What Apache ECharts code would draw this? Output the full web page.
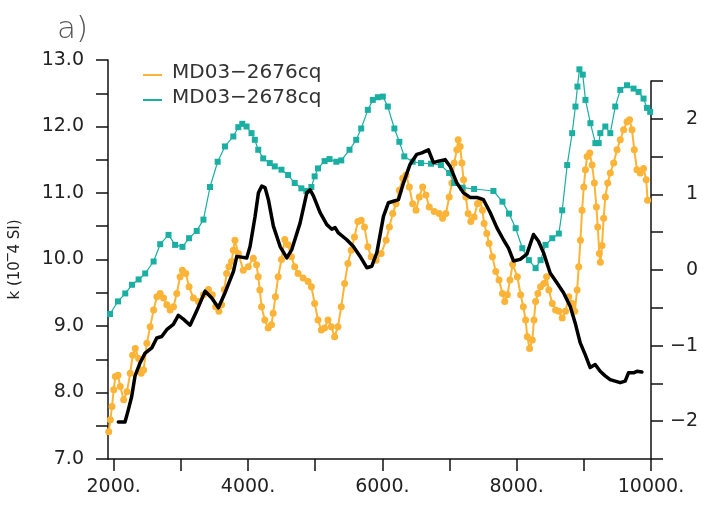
<!DOCTYPE html>
<html>
<head>
<meta charset="utf-8">
<script src="https://cdn.jsdelivr.net/npm/echarts@6/dist/echarts.min.js"></script>
<style>
  html, body { margin: 0; padding: 0; background: #fff; }
  #main { width: 703px; height: 506px; }
</style>
</head>
<body>
<div id="main"></div>
<script>
// MD03-2676cq (orange, left axis)
const orangeYear = [1926,1950,1975,2000,2024,2064,2098,2148,2197,2246,2282,2321,2371,2410,2445,2494,2543,2594,2643,2692,
  2742,2791,2840,2890,2939,2988,3024,3073,3122,3187,3261,3336,3410,3469,3518,3567,3607,3647,3681,3715,
  3755,3781,3805,3855,3929,4003,4078,4127,4152,4176,4201,4250,4300,4349,4374,4408,4449,4498,4547,4597,
  4646,4695,4745,4820,4894,4943,4992,5042,5091,5140,5191,5240,5289,5339,5388,5438,5487,5536,5585,5636,
  5685,5734,5784,5833,5907,5982,6056,6105,6155,6204,6253,6304,6353,6402,6452,6501,6550,6600,6649,6698,
  6773,6847,6897,6946,6995,7035,7069,7109,7129,7159,7184,7209,7243,7277,7317,7366,7417,7455,7491,7515,
  7555,7589,7639,7688,7737,7788,7822,7862,7900,7940,8010,8059,8099,8133,8158,8192,8233,8257,8282,8316,
  8356,8405,8445,8479,8530,8579,8628,8678,8727,8776,8826,8865,8900,8924,8949,8974,8999,9024,9049,9088,
  9123,9157,9187,9207,9231,9246,9271,9295,9320,9355,9394,9444,9494,9543,9592,9643,9681,9717,9751,9791,
  9840,9889,9929,9949];
const orangeK = [7.41,7.59,7.79,8.04,8.24,8.26,8.09,7.89,8.01,8.29,8.56,8.66,8.51,8.29,8.34,8.74,8.99,9.24,9.44,9.49,
  9.42,9.32,9.24,9.29,9.49,9.74,9.84,9.79,9.59,9.42,9.37,9.47,9.55,9.47,9.29,9.22,9.32,9.55,9.79,9.89,
  9.97,10.14,10.29,10.09,9.84,9.89,10.02,9.92,9.74,9.54,9.29,9.09,8.97,9.02,9.19,9.44,9.74,10.00,10.30,10.22,
  10.04,9.89,9.79,9.72,9.67,9.59,9.34,9.09,8.94,8.97,9.09,8.99,8.84,8.99,9.29,9.64,9.94,10.14,10.34,10.57,
  10.59,10.49,10.19,10.04,9.99,10.09,10.29,10.49,10.69,10.84,11.04,11.22,11.27,11.09,10.84,10.74,10.94,11.09,10.97,10.79,
  10.72,10.69,10.62,10.69,10.94,11.15,11.45,11.65,11.80,11.70,11.45,11.20,10.94,10.69,10.57,10.64,10.84,10.89,10.74,10.54,
  10.39,10.24,10.04,9.82,9.69,9.49,9.37,9.47,9.69,9.93,9.74,9.47,9.29,9.09,8.84,8.66,8.79,9.09,9.37,9.49,
  9.59,9.64,9.74,9.54,9.34,9.24,9.22,9.12,9.22,9.44,9.34,9.22,9.54,9.89,10.29,10.74,11.09,11.35,11.55,11.60,
  11.42,11.15,10.79,10.49,10.09,9.96,10.21,10.62,10.94,11.15,11.30,11.45,11.65,11.80,11.95,12.07,12.10,11.95,11.65,11.35,
  11.30,11.37,11.20,10.89];

// MD03-2678cq (teal, left axis)
const tealYear = [1945,2064,2172,2272,2371,2469,2594,2692,2816,2914,3024,3122,3236,3336,3434,3548,3656,3781,3855,3914,
  3978,4052,4101,4152,4226,4324,4398,4498,4597,4695,4794,4869,4943,4992,5042,5140,5214,5314,5388,5511,
  5611,5685,5784,5858,5933,6007,6081,6179,6253,6327,6452,6575,6724,6872,6995,7069,7194,7366,7654,7788,
  7886,7985,8084,8182,8282,8356,8430,8530,8628,8678,8752,8826,8875,8905,8934,8984,9024,9098,9172,9221,
  9246,9320,9394,9468,9543,9643,9740,9815,9889,9939,9988];
const tealK = [9.18,9.37,9.49,9.62,9.70,9.79,9.97,10.23,10.37,10.22,10.19,10.32,10.43,10.60,11.09,11.47,11.70,11.85,11.99,12.04,
  12.00,11.90,11.80,11.65,11.52,11.45,11.40,11.35,11.27,11.15,11.07,11.03,11.09,11.25,11.37,11.48,11.51,11.47,11.49,11.65,
  11.80,11.97,12.25,12.40,12.44,12.45,12.30,11.97,11.77,11.55,11.47,11.45,11.44,11.42,11.30,11.15,11.08,11.06,11.03,10.87,
  10.69,10.47,10.17,9.99,9.87,9.99,10.22,10.32,10.39,10.74,11.42,11.90,12.30,12.60,12.86,12.78,12.40,12.05,11.75,11.75,
  11.90,12.00,11.90,12.30,12.55,12.62,12.57,12.52,12.42,12.28,12.22];

// black curve (right axis)
const blackYear = [2098,2197,2246,2297,2346,2420,2495,2594,2668,2742,2816,2914,2988,3063,3162,3261,3385,3484,3582,3681,
  3805,3855,4003,4052,4127,4176,4226,4275,4324,4398,4498,4597,4671,4794,4894,4943,4992,5091,5191,5265,
  5314,5363,5487,5585,5685,5784,5858,5933,6031,6105,6179,6253,6327,6427,6526,6600,6698,6773,6847,6946,
  7020,7120,7218,7317,7417,7515,7614,7713,7811,7886,7960,8059,8158,8257,8331,8405,8504,8604,8702,8801,
  8875,8949,9024,9098,9172,9246,9320,9394,9468,9543,9617,9666,9740,9791,9865];
const blackVal = [-2.01,-2.01,-1.85,-1.67,-1.40,-1.23,-1.10,-1.03,-0.90,-0.88,-0.79,-0.72,-0.60,-0.65,-0.73,-0.54,-0.28,-0.37,-0.50,-0.30,
  -0.02,0.18,0.16,0.31,0.71,1.02,1.11,1.09,0.93,0.58,0.31,0.16,0.27,0.62,1.02,1.06,0.98,0.76,0.60,0.54,
  0.56,0.49,0.40,0.31,0.18,0.03,0.05,0.23,0.71,0.89,0.91,0.93,1.15,1.40,1.53,1.55,1.59,1.42,1.44,1.46,
  1.37,1.15,1.02,0.96,0.96,0.93,0.76,0.56,0.40,0.29,0.12,0.14,0.21,0.47,0.38,0.23,-0.04,-0.17,-0.30,-0.48,
  -0.70,-0.96,-1.12,-1.29,-1.25,-1.34,-1.40,-1.45,-1.47,-1.49,-1.47,-1.36,-1.36,-1.34,-1.35];

const xTickValues = [2000, 3000, 4000, 5000, 6000, 7000, 8000, 9000, 10000];
const xLabelValues = [2000, 4000, 6000, 8000, 10000];

const pairs = (xs, ys) => xs.map((x, i) => [x, ys[i]]);

const FONT = 'DejaVu Sans';
const ORANGE = '#FBB437';
const TEAL = '#1AAFA2';

const chart = echarts.init(document.getElementById('main'));

const axisLineStyle = { lineStyle: { color: '#111', width: 1.5 } };

const option = {
  animation: false,
  title: {
    text: 'a)',
    left: 52,
    top: 9,
    textStyle: { fontFamily: FONT, fontSize: 31, fontWeight: 200, color: '#555' }
  },
  legend: {
    data: ['MD03\u22122676cq', 'MD03\u22122678cq'],
    orient: 'vertical',
    left: 138,
    top: 58,
    itemGap: 5,
    itemWidth: 24,
    itemHeight: 10,
    icon: 'path://M0,6h19v2h-19z M24,0h0.01v10h-0.01z',
    textStyle: { fontFamily: FONT, fontSize: 20, color: '#333' }
  },
  grid: [
    { left: 106, right: 52, top: 60, bottom: 47 },
    { left: 106, right: 52, top: 81, bottom: 47 }
  ],
  xAxis: [
    {
      type: 'value',
      gridIndex: 0,
      min: 1915,
      max: 10000,
      axisLine: axisLineStyle,
      axisTick: { customValues: xTickValues, length: 12, lineStyle: { color: '#111', width: 1.5 } },
      axisLabel: {
        customValues: xLabelValues,
        formatter: v => v + '.',
        fontFamily: FONT,
        fontSize: 19,
        color: '#222',
        margin: 19
      },
      splitLine: { show: false }
    },
    {
      type: 'value',
      gridIndex: 1,
      min: 1915,
      max: 10000,
      show: false
    }
  ],
  yAxis: [
    {
      type: 'value',
      gridIndex: 0,
      min: 7,
      max: 13,
      interval: 0.5,
      name: 'k (10\u203E4 SI)',
      nameLocation: 'middle',
      nameGap: 85,
      nameTextStyle: { fontFamily: FONT, fontSize: 15, color: '#222' },
      axisLine: { show: true, ...axisLineStyle },
      axisTick: { length: 12, lineStyle: { color: '#111', width: 1.5 } },
      axisLabel: {
        formatter: v => (Number.isInteger(v) ? v.toFixed(1) : ''),
        fontFamily: FONT,
        fontSize: 19,
        color: '#222',
        margin: 24
      },
      splitLine: { show: false }
    },
    {
      type: 'value',
      gridIndex: 1,
      position: 'right',
      min: -2.5,
      max: 2.5,
      interval: 0.5,
      axisLine: { show: true, ...axisLineStyle },
      axisTick: { length: 12, lineStyle: { color: '#111', width: 1.5 } },
      axisLabel: {
        formatter: v => (Number.isInteger(v) ? String(v).replace('-', '\u2212') : ''),
        fontFamily: FONT,
        fontSize: 19,
        color: '#222',
        align: 'right',
        margin: 47
      },
      splitLine: { show: false }
    }
  ],
  series: [
    {
      name: 'MD03\u22122676cq',
      type: 'line',
      xAxisIndex: 0,
      yAxisIndex: 0,
      data: pairs(orangeYear, orangeK),
      symbol: 'circle',
      symbolSize: 7,
      itemStyle: { color: ORANGE },
      lineStyle: { color: ORANGE, width: 2 },
      z: 2
    },
    {
      name: 'MD03\u22122678cq',
      type: 'line',
      xAxisIndex: 0,
      yAxisIndex: 0,
      data: pairs(tealYear, tealK),
      symbol: 'rect',
      symbolSize: 6,
      itemStyle: { color: TEAL },
      lineStyle: { color: TEAL, width: 1.2 },
      z: 3
    },
    {
      name: 'index',
      type: 'line',
      xAxisIndex: 1,
      yAxisIndex: 1,
      data: pairs(blackYear, blackVal),
      showSymbol: false,
      lineStyle: { color: '#000', width: 3.5, join: 'round', cap: 'round' },
      z: 4
    }
  ]
};

chart.setOption(option);
</script>
</body>
</html>
